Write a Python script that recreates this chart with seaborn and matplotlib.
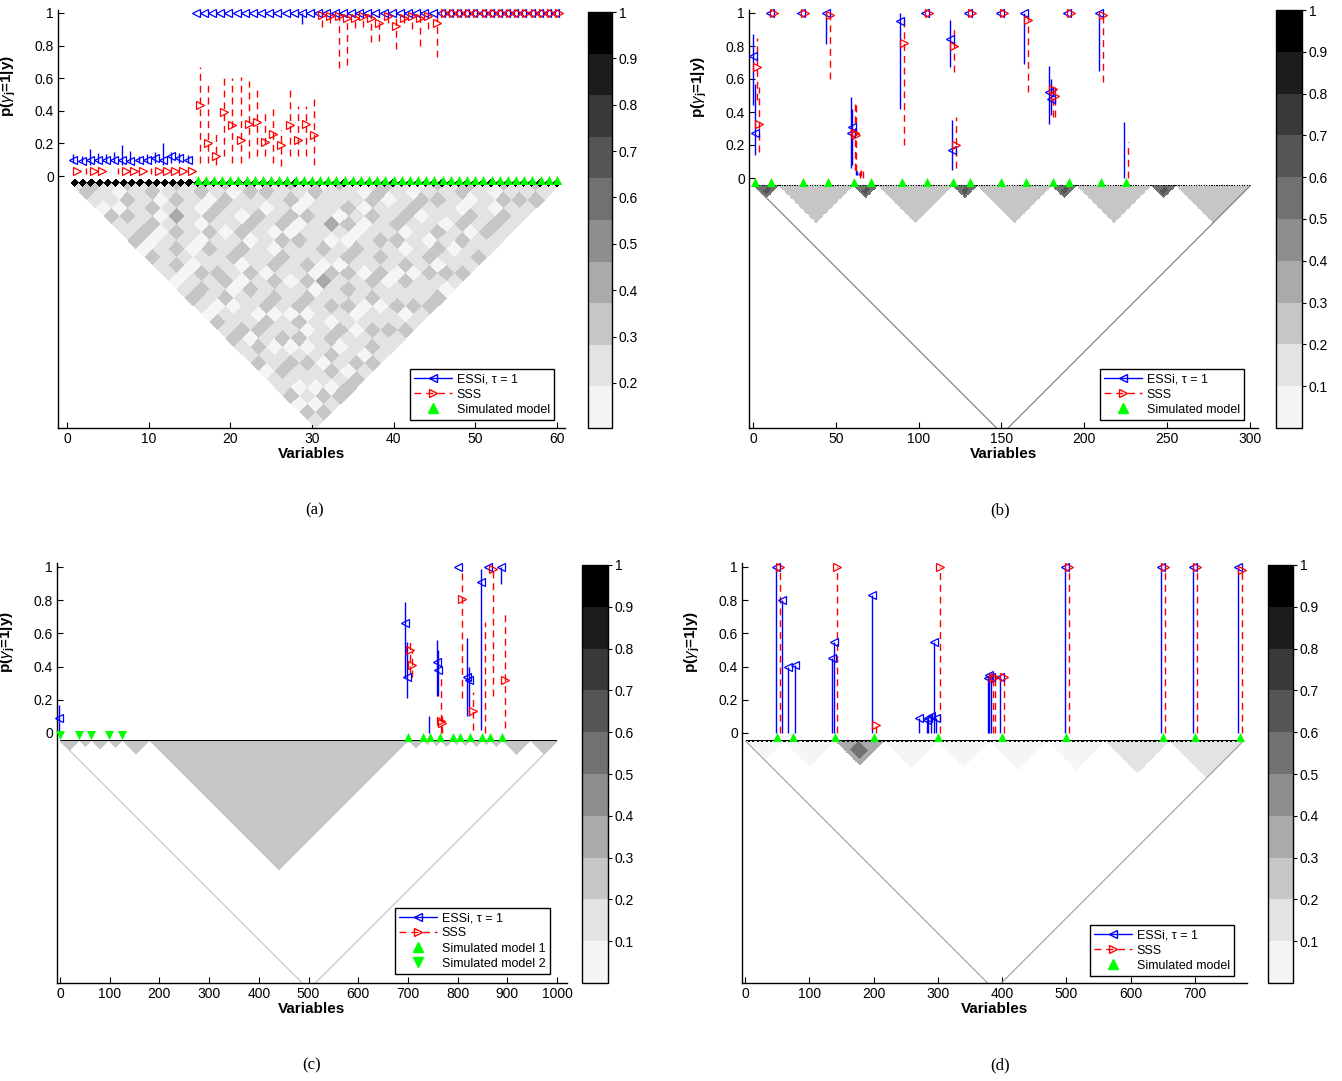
import numpy as np
import matplotlib
matplotlib.use('Agg')
import matplotlib.pyplot as plt
import matplotlib.transforms as mtransforms
from matplotlib.colors import ListedColormap, Normalize
from matplotlib.lines import Line2D
from matplotlib.ticker import FormatStrFormatter
import seaborn as sns

sns.set_style('ticks')
plt.rcParams['font.family'] = ['Liberation Sans', 'DejaVu Sans']
plt.rcParams['mathtext.fontset'] = 'custom'
plt.rcParams['mathtext.rm'] = 'Liberation Sans'
plt.rcParams['mathtext.it'] = 'Liberation Sans:italic'
plt.rcParams['mathtext.bf'] = 'Liberation Sans:bold'
for key in ['text.color', 'axes.labelcolor', 'xtick.color', 'ytick.color', 'axes.edgecolor']:
    plt.rcParams[key] = 'black'

W, H, DPI = 1342, 1081, 100
nan = np.nan

# ---------------- panel (a): 60 variables ----------------
a_n = 60
a_vars = list(range(1, 61))
a_essi_val = [0.10, 0.09, 0.10, 0.10, 0.10, 0.10, 0.10, 0.09, 0.10, 0.10, 0.11, 0.10, 0.12, 0.11, 0.10] + [1.0] * 45
a_essi_lo = [0.08, 0.08, 0.07, 0.08, 0.08, 0.08, 0.07, 0.08, 0.08, 0.08, 0.08, 0.07, 0.08, 0.08, 0.08] + [1.0] * 13 + [0.93] + [1.0] * 31
a_essi_hi = [0.135, 0.12, 0.165, 0.14, 0.135, 0.15, 0.19, 0.155, 0.12, 0.135, 0.15, 0.20, 0.15, 0.14, 0.13] + [1.0] * 45
a_sss_val = [0.03, nan, 0.03, 0.03, nan, nan, 0.03, 0.03, 0.03, nan, 0.03, 0.03, 0.03, 0.03, 0.03,
             0.435, 0.20, 0.12, 0.39, 0.31, 0.22, 0.32, 0.33, 0.21, 0.26, 0.19, 0.31, 0.22, 0.32, 0.25,
             0.99, 0.98, 0.98, 0.97, 0.97, 0.98, 0.97, 0.94, 0.98, 0.92, 0.97, 0.98, 0.97, 0.98, 0.94] + [1.0] * 15
a_sss_lo = [0.03, 0.015, 0.03, 0.03, nan, 0.015, 0.03, 0.03, 0.03, 0.015, 0.03, 0.03, 0.03, 0.03, 0.03,
            0.08, 0.08, 0.07, 0.12, 0.08, 0.08, 0.11, 0.12, 0.12, 0.08, 0.06, 0.12, 0.12, 0.12, 0.07,
            0.915, 0.94, 0.66, 0.68, 0.905, 0.915, 0.82, 0.83, 0.94, 0.78, 0.94, 0.90, 0.80, 0.90, 0.73] + [1.0] * 15
a_sss_hi = [0.03, 0.047, 0.03, 0.03, nan, 0.047, 0.03, 0.03, 0.03, 0.047, 0.03, 0.03, 0.03, 0.03, 0.03,
            0.67, 0.58, 0.26, 0.60, 0.60, 0.61, 0.58, 0.54, 0.40, 0.41, 0.28, 0.55, 0.43, 0.43, 0.50] + [1.0] * 30
a_sim = list(range(16, 61))
# correlation levels, 2-variable blocks, row I lists blocks J = I..29
a_corr_rows = [
    "121021120211012102121120112021", "21102120112012101120211210102",
    "1021120121021120112101211021", "211201210112201102120121102",
    "12013110211102120112010212", "0121102112021121020112102",
    "211021012110211201120121", "12021120112101211021102",
    "1121021102112012110121", "201121021120311201211",
    "12101202110212101121", "0211201121021120112",
    "112021101210211201", "21011310211201121",
    "1211020112102112", "011210121120112",
    "21102112011210", "1021120112021",
    "120121102112", "21120121011",
    "1021101212", "012112011", "21102121", "1201121",
    "211021", "10211", "2121", "112", "21", "1",
]
a_level_value = {'0': 0.12, '1': 0.20, '2': 0.30, '3': 0.40, '4': 0.50}

# ---------------- panel (b): 300 variables ----------------
b_n = 300
b_essi_vars = [1, 2, 11, 30, 45, 60, 61, 63, 64, 65, 90, 105, 120, 121, 131, 150, 165, 180, 181, 191, 210, 225]
b_essi_val = [0.74, 0.27, 1.0, 1.0, 1.0, 0.27, 0.31, nan, nan, nan, 0.95, 1.0, 0.84, 0.17, 1.0, 1.0, 1.0, 0.52, 0.48, 1.0, 1.0, nan]
b_essi_lo = [0.44, 0.14, 1.0, 1.0, 0.81, 0.06, 0.08, 0.02, 0.02, 0.02, 0.42, 1.0, 0.67, 0.05, 1.0, 1.0, 0.69, 0.33, 0.38, 1.0, 0.65, 0.0]
b_essi_hi = [0.87, 0.57, 1.0, 1.0, 1.0, 0.49, 0.42, 0.05, 0.04, 0.03, 1.0, 1.0, 0.96, 0.35, 1.0, 1.0, 1.0, 0.68, 0.60, 1.0, 1.0, 0.34]
b_sss_vars = b_essi_vars
b_sss_val = [0.67, 0.33, 1.0, 1.0, 0.99, 0.27, 0.26, nan, nan, nan, 0.82, 1.0, 0.80, 0.20, 1.0, 1.0, 0.96, 0.54, 0.50, 1.0, 0.99, nan]
b_sss_lo = [0.47, 0.16, 1.0, 1.0, 0.60, 0.05, 0.04, 0.0, 0.01, 0.0, 0.20, 1.0, 0.64, 0.06, 1.0, 1.0, 0.52, 0.37, 0.37, 1.0, 0.58, 0.0]
b_sss_hi = [0.85, 0.55, 1.0, 1.0, 1.0, 0.48, 0.45, 0.05, 0.05, 0.04, 0.99, 1.0, 0.93, 0.37, 1.0, 1.0, 1.0, 0.58, 0.55, 1.0, 1.0, 0.22]
b_sim = [1, 11, 30, 45, 61, 71, 90, 105, 121, 131, 150, 165, 181, 191, 210, 225]
b_blocks = [(1, 15, 0.55), (16, 60, 0.25), (61, 75, 0.55), (76, 120, 0.25), (121, 135, 0.55),
            (136, 180, 0.25), (181, 195, 0.55), (196, 240, 0.25), (241, 255, 0.55), (256, 300, 0.25)]
b_rects = [(3, 8, 10, 13, 0.68), (63, 68, 70, 73, 0.68), (123, 128, 130, 133, 0.68),
           (183, 188, 190, 193, 0.68), (243, 248, 250, 253, 0.68)]

# ---------------- panel (c): 1000 variables ----------------
c_n = 1000
c_essi_vars = [1, 698, 702, 745, 762, 765, 805, 823, 826, 850, 865, 890]
c_essi_val = [0.09, 0.66, 0.34, nan, 0.43, 0.38, 1.0, 0.34, 0.32, 0.91, 1.0, 1.0]
c_essi_lo = [0.01, 0.33, 0.21, 0.0, 0.22, 0.22, 1.0, 0.10, 0.10, 0.02, 1.0, 0.90]
c_essi_hi = [0.17, 0.79, 0.55, 0.10, 0.56, 0.50, 1.0, 0.57, 0.40, 0.99, 1.0, 1.0]
c_sss_vars = [700, 703, 762, 765, 804, 826, 850, 866, 890]
c_sss_val = [0.50, 0.41, 0.07, 0.06, 0.81, 0.13, nan, 0.99, 0.32]
c_sss_lo = [0.36, 0.34, 0.0, 0.0, 0.21, 0.02, 0.0, 0.22, 0.03]
c_sss_hi = [0.55, 0.50, 0.33, 0.10, 0.97, 0.25, 0.67, 1.0, 0.73]
c_sim1 = [700, 730, 745, 765, 790, 805, 825, 850, 865, 890]
c_sim2 = [1, 38, 62, 98, 125]
c_blocks = [(1, 37, 0.22), (38, 62, 0.22), (63, 98, 0.22), (99, 125, 0.22), (126, 180, 0.22),
            (181, 700, 0.25), (701, 730, 0.22), (731, 745, 0.22), (746, 765, 0.22), (766, 790, 0.22),
            (791, 805, 0.22), (806, 825, 0.22), (826, 850, 0.22), (851, 865, 0.22), (866, 890, 0.22),
            (891, 945, 0.22), (946, 1000, 0.22)]
c_rects = []

# ---------------- panel (d): 775 variables ----------------
d_n = 775
d_essi_vars = [50, 60, 70, 80, 138, 141, 200, 273, 285, 288, 292, 296, 300, 381, 383, 386, 400, 500, 650, 700, 770]
d_essi_val = [1.0, 0.80, 0.40, 0.41, 0.45, 0.55, 0.83, 0.09, 0.08, 0.09, 0.10, 0.55, 0.09, 0.33, 0.35, 0.34, 0.34, 1.0, 1.0, 1.0, 1.0]
d_sss_vars = [50, 140, 200, 300, 383, 386, 400, 500, 650, 700, 770]
d_sss_val = [1.0, 1.0, 0.05, 1.0, 0.33, 0.34, 0.34, 1.0, 1.0, 1.0, 0.98]
d_sim = [50, 75, 140, 200, 300, 400, 500, 650, 700, 770]
d_blocks = [(1, 60, 0.06), (61, 139, 0.06), (140, 215, 0.35), (216, 300, 0.06), (301, 380, 0.06),
            (381, 470, 0.06), (471, 560, 0.06), (561, 660, 0.12), (661, 775, 0.12)]
d_rects = [(150, 175, 176, 205, 0.55)]

# ---------------- style ----------------
gray_levels = [0.96, 0.889, 0.778, 0.667, 0.556, 0.444, 0.333, 0.222, 0.111, 0.0]
cmap = ListedColormap([(g, g, g) for g in gray_levels])
BLUE, RED, GREEN = '#0000ff', '#ff0000', '#00ff00'

fig = plt.figure(figsize=(W / DPI, H / DPI), dpi=DPI)


def box(x0, y0, x1, y1):
    return [x0 / W, 1 - y1 / H, (x1 - x0) / W, (y1 - y0) / H]


def block_matrix(n, blocks, rects):
    M = np.zeros((n, n))
    for s, e, v in blocks:
        M[s - 1:e, s - 1:e] = v
    for r0, r1, c0, c1, v in rects:
        M[r0 - 1:r1, c0 - 1:c1] = v
        M[c0 - 1:c1, r0 - 1:r1] = v
    np.fill_diagonal(M, 1.0)
    return M


def level_matrix(rows, values, size):
    g = len(rows)
    G = np.zeros((g, g))
    for i, row in enumerate(rows):
        for t, ch in enumerate(row[:g - i]):
            G[i, i + t] = G[i + t, i] = values[ch]
    M = np.kron(G, np.ones((size, size)))
    np.fill_diagonal(M, 1.0)
    return M


def draw_triangle(ax, M, step, top, k, norm, edge):
    Ms = M[::step, ::step]
    m = Ms.shape[0]
    e = np.arange(m + 1) * step + 0.5
    U, V = np.meshgrid(e, e, indexing='ij')
    X = (U + V) / 2
    Y = top - (V - U) / 2 * k
    r, c = np.indices(Ms.shape)
    C = np.ma.masked_where((c < r) | (Ms <= 0), Ms)
    ax.pcolormesh(X, Y, C, cmap=cmap, norm=norm, shading='flat', zorder=1, rasterized=False)
    if edge:
        n = M.shape[0]
        ax.plot([0.5, 0.5 + n / 2, n + 0.5], [top, top - n / 2 * k, top], color=edge, lw=0.8, zorder=1.5)


def panel(rect, xlim, zero_px, ppu, xticks, M, step, top, norm, edge, cbar_rect, cticks,
          essi, sss, sims, legend_xy, legend_labels, tag, tag_xy):
    x0, y0, x1, y1 = rect
    ax = fig.add_axes(box(*rect))
    ax.set_xlim(*xlim)
    ax.set_ylim((zero_px - y1) / ppu, (zero_px - y0) / ppu)
    k = ((x1 - x0) / (xlim[1] - xlim[0])) / ppu

    draw_triangle(ax, M, step, top, k, norm, edge)

    blue_tr = ax.transData + mtransforms.ScaledTranslation(-1.8 / DPI, 0, fig.dpi_scale_trans)
    red_tr = ax.transData + mtransforms.ScaledTranslation(2.2 / DPI, 0, fig.dpi_scale_trans)

    for (xs, lo, hi, vals), col, tr, ls, mk in [
            (essi, BLUE, blue_tr, '-', '<'), (sss, RED, red_tr, (0, (5, 3.5)), '>')]:
        xs = np.asarray(xs, float)
        lo = np.asarray(lo, float)
        hi = np.asarray(hi, float)
        ok = ~np.isnan(lo)
        ax.vlines(xs[ok], lo[ok], hi[ok], colors=col, linestyles=ls, lw=1.0,
                  transform=tr, clip_on=False, zorder=3)
        ax.plot(xs, vals, ls='none', marker=mk, mfc='none', mec=col, ms=6, mew=0.9,
                transform=tr, clip_on=False, zorder=4)

    for xs, mk, yy in sims:
        sns.scatterplot(x=xs, y=[yy] * len(xs), marker=mk, color=GREEN, s=42, linewidth=0,
                        ax=ax, clip_on=False, zorder=5, legend=False)

    sns.despine(ax=ax)
    ax.spines['left'].set_linewidth(1.0)
    ax.spines['bottom'].set_linewidth(1.0)
    ax.set_xticks(xticks)
    ax.set_yticks([0, 0.2, 0.4, 0.6, 0.8, 1.0])
    ax.yaxis.set_major_formatter(FormatStrFormatter('%g'))
    ax.tick_params(direction='in', length=4, width=0.8, labelsize=10, pad=3)
    ax.set_xlabel('Variables', fontsize=11, fontweight='bold')
    ax.xaxis.set_label_coords(0.5, -0.045)
    ax.set_ylabel(r'p($\gamma_{\mathbf{j}}$=1|y)', fontsize=11, fontweight='bold')
    ylo, yhi = ax.get_ylim()
    ax.yaxis.set_label_coords(-40 / (x1 - x0), (0.55 - ylo) / (yhi - ylo))

    handles = [Line2D([], [], color=BLUE, ls='-', lw=1, marker='<', mfc='none', mec=BLUE, ms=6),
               Line2D([], [], color=RED, ls=(0, (5, 3.5)), lw=1, marker='>', mfc='none', mec=RED, ms=6)]
    for xs, mk, yy in sims:
        handles.append(Line2D([], [], ls='none', marker=mk, color=GREEN, ms=6.5))
    leg = ax.legend(handles, legend_labels, loc='upper left',
                    bbox_to_anchor=(legend_xy[0] / W, 1 - legend_xy[1] / H),
                    bbox_transform=fig.transFigure, borderaxespad=0, fontsize=9,
                    fancybox=False, framealpha=1, handlelength=3.0, handletextpad=0.4,
                    labelspacing=0.25, borderpad=0.35)
    leg.get_frame().set_edgecolor('black')
    leg.get_frame().set_linewidth(1.0)
    leg.set_zorder(10)

    cax = fig.add_axes(box(*cbar_rect))
    sm = plt.cm.ScalarMappable(norm=norm, cmap=cmap)
    cb = fig.colorbar(sm, cax=cax, ticks=cticks)
    cb.ax.yaxis.set_major_formatter(FormatStrFormatter('%g'))
    cb.outline.set_edgecolor('black')
    cb.outline.set_linewidth(1.0)
    cax.tick_params(direction='out', length=3, width=0.8, labelsize=10, pad=2)

    fig.text(tag_xy[0] / W, 1 - tag_xy[1] / H, tag, ha='center', va='center',
             fontsize=12, family=['Liberation Serif', 'DejaVu Serif'])


labels1 = ['ESSi, \u03c4 = 1', 'SSS', 'Simulated model']
labels2 = ['ESSi, \u03c4 = 1', 'SSS', 'Simulated model 1', 'Simulated model 2']
ticks01 = [0.1, 0.2, 0.3, 0.4, 0.5, 0.6, 0.7, 0.8, 0.9, 1.0]

panel((58, 10, 565, 428), (-1.1, 61), 176, 163, range(0, 61, 10),
      level_matrix(a_corr_rows, a_level_value, 2), 1, -0.045, Normalize(0.1027, 1.0), None,
      (588, 12, 612, 428), ticks01[1:],
      (a_vars, a_essi_lo, a_essi_hi, a_essi_val), (a_vars, a_sss_lo, a_sss_hi, a_sss_val),
      [(a_sim, '^', -0.025)], (410, 369), labels1, '(a)', (315, 510))

panel((749, 10, 1258, 428), (-2.5, 305), 178, 165, range(0, 301, 50),
      block_matrix(b_n, b_blocks, b_rects), 1, -0.045, Normalize(0.0, 1.0), '#7a7a7a',
      (1276, 10, 1302, 428), ticks01,
      (b_essi_vars, b_essi_lo, b_essi_hi, b_essi_val), (b_sss_vars, b_sss_lo, b_sss_hi, b_sss_val),
      [(b_sim, '^', -0.024)], (1100, 369), labels1, '(b)', (1000, 510))

panel((57, 563, 567, 983), (-6, 1020), 733, 166, range(0, 1001, 100),
      block_matrix(c_n, c_blocks, c_rects), 2, -0.048, Normalize(0.0, 1.0), '#c0c0c0',
      (582, 565, 608, 983), ticks01,
      (c_essi_vars, c_essi_lo, c_essi_hi, c_essi_val), (c_sss_vars, c_sss_lo, c_sss_hi, c_sss_val),
      [(c_sim1, '^', -0.024), (c_sim2, 'v', -0.012)], (395, 908), labels2, '(c)', (312, 1065))

panel((742, 563, 1247, 983), (-5, 781), 733, 166, range(0, 701, 100),
      block_matrix(d_n, d_blocks, d_rects), 2, -0.048, Normalize(0.0, 1.0), '#a0a0a0',
      (1268, 565, 1293, 983), ticks01,
      (d_essi_vars, [0.0] * len(d_essi_vars), d_essi_val, d_essi_val),
      (d_sss_vars, [0.0] * len(d_sss_vars), d_sss_val, d_sss_val),
      [(d_sim, '^', -0.024)], (1090, 925), labels1, '(d)', (1000, 1065))

fig.savefig('out.png', dpi=DPI)
